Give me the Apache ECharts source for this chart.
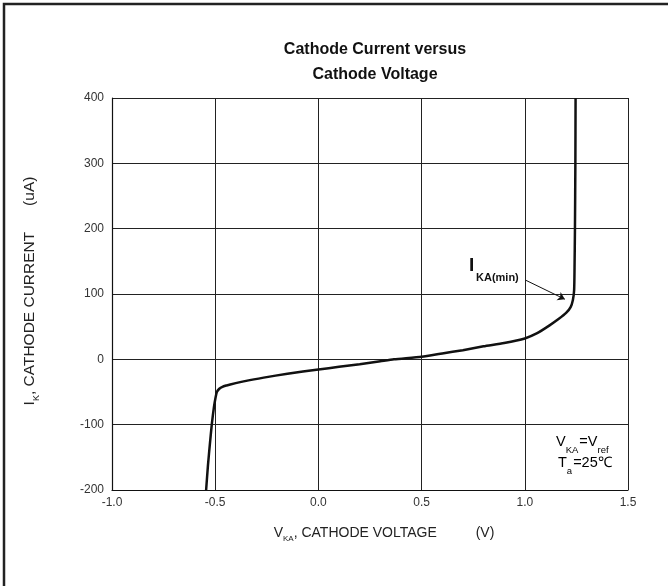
<!DOCTYPE html>
<html>
<head>
<meta charset="utf-8">
<script src="https://cdn.jsdelivr.net/npm/echarts@6/dist/echarts.min.js"></script>
<style>
  html, body { margin: 0; padding: 0; background: #fff; }
  #chart { width: 668px; height: 586px; }
</style>
</head>
<body>
<div id="chart"></div>
<script>
// cathode voltage (V) and cathode current (uA)
var vkaList = [-0.544, -0.535, -0.525, -0.516, -0.506, -0.498, -0.492, -0.48, -0.465, -0.445, -0.427,
    -0.35, -0.265, -0.15, 0.0, 0.1, 0.2, 0.3, 0.366, 0.5, 0.6, 0.7, 0.8, 0.9, 1.0, 1.06, 1.12,
    1.165, 1.2, 1.222, 1.233, 1.239, 1.241, 1.243, 1.245, 1.246];
var ikList = [-200, -162, -127, -98, -73, -58, -50, -45, -42, -40, -38.5,
    -33, -28, -22, -15.5, -11.5, -7.5, -3, 0, 4, 9, 14, 20, 25, 32, 40, 52,
    62, 71, 80, 91, 106, 140, 200, 300, 400];

var xTicks = [-1.0, -0.5, 0.0, 0.5, 1.0, 1.5];
var yTicks = [-200, -100, 0, 100, 200, 300, 400];

// I_KA(min) arrow, from label to curve
var arrowFrom = [1.005, 121];
var arrowTo = [1.194, 92];

var chart = echarts.init(document.getElementById('chart'), null, {renderer: 'canvas'});

var points = [];
for (var i = 0; i < vkaList.length; i++) {
    points.push([vkaList[i], ikList[i]]);
}

var font = 'Arial, "Liberation Sans", sans-serif';
var xNameStyle = {
    n: {fontSize: 14, fontFamily: font, color: '#222', lineHeight: 17, verticalAlign: 'top'},
    sub: {fontSize: 8, fontFamily: font, color: '#222', lineHeight: 10, padding: [9, 0, 0, 0], verticalAlign: 'top'}
};
var yNameStyle = {
    n: {fontSize: 15.5, fontFamily: font, color: '#222', lineHeight: 18, verticalAlign: 'top'},
    sub: {fontSize: 9, fontFamily: font, color: '#222', lineHeight: 10, padding: [10, 0, 0, 0], verticalAlign: 'top'}
};
var noteStyle = {
    n: {fontSize: 14.5, fontFamily: font, color: '#222', lineHeight: 17, verticalAlign: 'top'},
    sub: {fontSize: 9.5, fontFamily: font, color: '#222', lineHeight: 10, padding: [11, 1, 0, 0], verticalAlign: 'top'}
};

chart.setOption({
    backgroundColor: '#fff',
    animation: false,
    title: {
        text: 'Cathode Current versus\nCathode Voltage',
        left: 370,
        textAlign: 'center',
        top: 32,
        textStyle: {
            fontFamily: font,
            fontSize: 16,
            fontWeight: 'bold',
            color: '#111',
            lineHeight: 25
        }
    },
    grid: {
        left: 112,
        right: 40,
        top: 98,
        bottom: 96
    },
    xAxis: {
        type: 'value',
        min: -1.0,
        max: 1.5,
        interval: 0.5,
        name: '{n|V}{sub|KA}{n|, CATHODE VOLTAGE          (V)}',
        nameLocation: 'middle',
        nameGap: 36,
        nameTextStyle: {rich: xNameStyle, padding: [0, 0, 0, 28]},
        axisLine: {show: true, onZero: false, lineStyle: {color: '#111', width: 1.2}},
        axisTick: {show: false},
        axisLabel: {
            margin: 7,
            fontFamily: font,
            fontSize: 12,
            color: '#333',
            formatter: function (v) { return v.toFixed(1); }
        },
        splitLine: {show: true, lineStyle: {color: '#222', width: 1}}
    },
    yAxis: {
        type: 'value',
        min: -200,
        max: 400,
        interval: 100,
        name: '{n|I}{sub|K}{n|, CATHODE CURRENT      (uA)}',
        nameLocation: 'middle',
        nameGap: 72,
        nameTextStyle: {rich: yNameStyle, padding: [0, 0, 0, 6]},
        axisLine: {show: true, onZero: false, lineStyle: {color: '#111', width: 1.2}},
        axisTick: {show: false},
        axisLabel: {
            margin: 8,
            fontFamily: font,
            fontSize: 12,
            color: '#333'
        },
        splitLine: {show: true, lineStyle: {color: '#222', width: 1}}
    },
    graphic: [
        {
            type: 'polyline',
            shape: {points: [[4, 586], [4, 4], [668, 4]]},
            style: {stroke: '#222', lineWidth: 2.5, fill: null},
            silent: true
        },
        {
            type: 'text',
            left: 469,
            top: 256,
            style: {text: 'I', fontFamily: font, fontSize: 19, fontWeight: 'bold', fill: '#111'}
        },
        {
            type: 'text',
            left: 476,
            top: 272,
            style: {text: 'KA(min)', fontFamily: font, fontSize: 11, fontWeight: 'bold', fill: '#111'}
        },
        {
            type: 'text',
            left: 556,
            top: 434,
            style: {
                text: '{n|V}{sub|KA}{n|=V}{sub|ref}',
                rich: noteStyle
            }
        },
        {
            type: 'text',
            left: 558,
            top: 455,
            style: {
                text: '{n|T}{sub|a}{n|=25℃}',
                rich: noteStyle
            }
        }
    ],
    series: [{
        type: 'line',
        data: points,
        showSymbol: false,
        smooth: 0.2,
        lineStyle: {color: '#111', width: 2.5},
        markLine: {
            silent: true,
            symbol: ['none', 'arrow'],
            symbolSize: 7,
            label: {show: false},
            lineStyle: {color: '#111', width: 1, type: 'solid'},
            data: [[{coord: arrowFrom}, {coord: arrowTo}]]
        }
    }]
});
</script>
</body>
</html>
